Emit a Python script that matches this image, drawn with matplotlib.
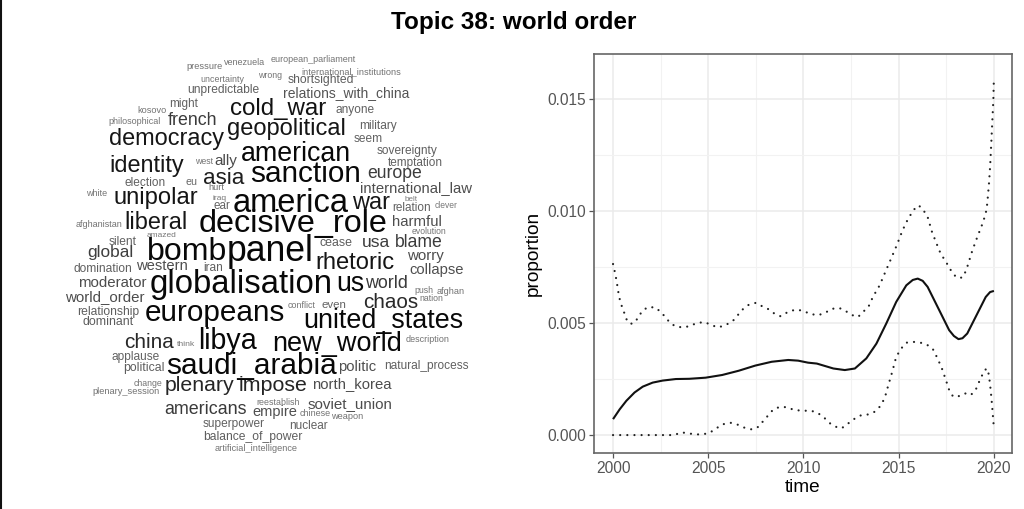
import numpy as np
import matplotlib
matplotlib.use('Agg')
import matplotlib.pyplot as plt
from matplotlib.lines import Line2D
from matplotlib.ticker import MultipleLocator, FormatStrFormatter

plt.rcParams['font.family'] = ['Liberation Sans', 'DejaVu Sans']

# ---- word cloud ----
words = ['pressure', 'venezuela', 'european_parliament', 'international_institutions',
         'uncertainty', 'wrong', 'shortsighted', 'unpredictable', 'relations_with_china',
         'might', 'kosovo', 'cold_war', 'anyone', 'philosophical', 'french', 'geopolitical',
         'military', 'democracy', 'seem', 'american', 'sovereignty', 'identity', 'west',
         'ally', 'temptation', 'asia', 'sanction', 'europe', 'election', 'eu', 'hurt',
         'white', 'unipolar', 'international_law', 'iraq', 'ear', 'america', 'war', 'belt',
         'relation', 'clever', 'afghanistan', 'liberal', 'decisive_role', 'harmful',
         'evolution', 'amazed', 'silent', 'global', 'bomb', 'panel', 'cease', 'usa',
         'blame', 'rhetoric', 'worry', 'domination', 'western', 'iran', 'collapse',
         'moderator', 'globalisation', 'us', 'world', 'push', 'afghan', 'nation',
         'world_order', 'relationship', 'europeans', 'conflict', 'even', 'chaos',
         'dominant', 'united_states', 'china', 'think', 'libya', 'new_world',
         'description', 'applause', 'political', 'saudi_arabia', 'politic',
         'natural_process', 'change', 'plenary_session', 'plenary', 'impose',
         'north_korea', 'reestablish', 'americans', 'empire', 'soviet_union', 'chinese',
         'weapon', 'superpower', 'nuclear', 'balance_of_power', 'artificial_intelligence']

# where each word sits in the picture (pixels): left, right, vertical centre
word_boxes = [(187, 223, 66), (224, 265, 62), (271, 356, 59), (302, 400, 71),
              (200, 244, 79), (258, 282, 75), (288, 354, 79), (187, 259, 89), (283, 409, 93),
              (169, 198, 103), (137, 166, 110), (230, 327, 108), (336, 375, 109),
              (109, 161, 121), (168, 218, 120), (227, 346, 128),
              (359, 397, 125), (108, 224, 138), (354, 383, 138), (240, 351, 153),
              (377, 438, 150), (109, 184, 165), (195, 213, 161),
              (214, 237, 160), (388, 443, 162), (203, 244, 177), (250, 361, 173),
              (367, 422, 173), (125, 166, 182), (186, 198, 182), (208, 224, 187),
              (86, 107, 193), (113, 198, 197), (360, 472, 188), (213, 227, 198),
              (213, 230, 206), (232, 349, 202), (352, 390, 202), (405, 418, 199),
              (392, 431, 207), (435, 458, 205), (75, 122, 224), (125, 188, 222),
              (198, 388, 222), (392, 442, 222),
              (412, 447, 231), (147, 177, 234), (109, 137, 241), (87, 133, 252),
              (147, 227, 250), (227, 314, 250), (319, 352, 242), (362, 390, 242),
              (395, 443, 242), (315, 395, 262), (407, 444, 255), (73, 132, 268),
              (136, 188, 266), (203, 223, 267), (410, 464, 270),
              (78, 147, 282), (150, 333, 283), (336, 364, 283), (365, 408, 283),
              (414, 433, 290), (437, 465, 291), (419, 443, 298),
              (65, 145, 297), (77, 139, 311), (144, 285, 312), (288, 316, 305),
              (321, 346, 305), (363, 418, 302),
              (83, 134, 321), (303, 463, 320), (124, 174, 342), (177, 195, 343),
              (198, 257, 340), (272, 402, 343),
              (406, 450, 339), (112, 160, 356), (123, 164, 367), (166, 337, 365),
              (338, 376, 367),
              (384, 469, 365), (134, 163, 383), (93, 160, 391), (164, 234, 385),
              (239, 308, 385),
              (312, 392, 384), (257, 300, 402), (164, 247, 409), (252, 297, 412),
              (307, 392, 403), (300, 331, 413),
              (331, 363, 416), (203, 265, 423), (289, 328, 425), (203, 302, 436),
              (215, 297, 448)]

# ---- topic proportion over time ----
mean_t = [2000.0, 2000.35, 2000.7, 2001.13, 2001.56, 2002.08, 2002.6, 2003.3, 2004.0,
          2004.86, 2005.73, 2006.6, 2007.47, 2008.33, 2009.2, 2009.72, 2010.24, 2010.7,
          2011.57, 2012.17, 2012.7, 2013.3, 2013.83, 2014.35, 2014.87, 2015.4, 2015.74,
          2016.0, 2016.26, 2016.52, 2017.13, 2017.65, 2017.9, 2018.14, 2018.35, 2018.6,
          2019.13, 2019.57, 2019.8, 2020.0]
mean_v = [0.00071, 0.00115, 0.00153, 0.0019, 0.00216, 0.00234, 0.00243, 0.0025, 0.00251,
          0.00256, 0.00268, 0.00287, 0.0031, 0.00327, 0.00335, 0.00332, 0.00323, 0.00319,
          0.00297, 0.0029, 0.00297, 0.00342, 0.00408, 0.00498, 0.00594, 0.00668, 0.00692,
          0.00698, 0.00688, 0.00661, 0.00557, 0.00468, 0.00442, 0.00428, 0.00432, 0.00453,
          0.00542, 0.00616, 0.00638, 0.00643]

upper_t = [2000.0, 2000.09, 2000.17, 2000.24, 2000.31, 2000.4, 2000.52, 2000.66, 2000.75,
           2001.0, 2001.3, 2001.5, 2001.8, 2002.2, 2002.5, 2002.76, 2003.0, 2003.3, 2003.7,
           2004.05, 2004.4, 2004.8, 2005.2, 2005.5, 2005.9, 2006.3, 2006.5, 2006.8, 2007.1,
           2007.5, 2007.8, 2008.2, 2008.5, 2008.8, 2009.2, 2009.6, 2010.0, 2010.35, 2010.78,
           2011.13, 2011.48, 2011.88, 2012.2, 2012.56, 2012.87, 2013.13, 2013.4, 2013.65,
           2014.0, 2014.3, 2014.6, 2014.9, 2015.2, 2015.5, 2015.8, 2016.05, 2016.3, 2016.52,
           2016.75, 2016.99, 2017.2, 2017.48, 2017.74, 2018.0, 2018.2, 2018.4, 2018.6,
           2018.87, 2019.13, 2019.4, 2019.57, 2019.65, 2019.74, 2019.8, 2019.86, 2019.91,
           2019.97, 2020.0]
upper_v = [0.00763, 0.00729, 0.00695, 0.00659, 0.0062, 0.0059, 0.0056, 0.0053, 0.00505,
           0.00496, 0.0052, 0.0055, 0.0057, 0.0057, 0.0055, 0.00525, 0.005, 0.00484, 0.0048,
           0.00487, 0.005, 0.00504, 0.0049, 0.0048, 0.0049, 0.0051, 0.0053, 0.0056, 0.0058,
           0.0059, 0.00576, 0.0056, 0.0054, 0.0053, 0.0055, 0.0056, 0.00554, 0.0054, 0.00535,
           0.00545, 0.00563, 0.00567, 0.00554, 0.00535, 0.00527, 0.0055, 0.0057, 0.00617,
           0.00668, 0.00728, 0.00787, 0.00847, 0.00913, 0.00966, 0.01006, 0.01025, 0.01003,
           0.00973, 0.00906, 0.00854, 0.0081, 0.00773, 0.00735, 0.00706, 0.007, 0.00706,
           0.0075, 0.00824, 0.00884, 0.00943, 0.00988, 0.01032, 0.01121, 0.01196, 0.013,
           0.01389, 0.01493, 0.01597]

lower_t = [2000.0, 2003.2, 2003.6, 2004.0, 2004.34, 2004.7, 2005.07, 2005.42, 2005.76,
           2006.16, 2006.5, 2006.9, 2007.3, 2007.64, 2007.9, 2008.16, 2008.42, 2008.77,
           2009.15, 2009.5, 2009.9, 2010.43, 2010.78, 2011.13, 2011.4, 2011.7, 2012.0,
           2012.35, 2012.7, 2013.04, 2013.4, 2013.74, 2014.0, 2014.26, 2014.43, 2014.66,
           2014.87, 2015.13, 2015.4, 2015.74, 2016.1, 2016.43, 2016.78, 2017.04, 2017.27,
           2017.48, 2017.65, 2017.86, 2018.17, 2018.48, 2018.78, 2019.04, 2019.3, 2019.52,
           2019.65, 2019.74, 2019.83, 2019.91, 2020.0]
lower_v = [0.0, 0.0, 0.00012, 0.00007, 0.00003, 0.00003, 0.0001, 0.0003, 0.00048,
           0.00055, 0.00048, 0.00033, 0.00025, 0.00037, 0.00064, 0.00089, 0.00115, 0.00126,
           0.00124, 0.00112, 0.00109, 0.00108, 0.00097, 0.00074, 0.00052, 0.00037, 0.0003,
           0.00052, 0.00074, 0.00089, 0.00092, 0.00104, 0.00126, 0.00163, 0.00215, 0.00282,
           0.00349, 0.00386, 0.00412, 0.00416, 0.00413, 0.00406, 0.00386, 0.00342, 0.00297,
           0.00245, 0.00201, 0.00171, 0.00174, 0.00186, 0.00178, 0.00201, 0.00253, 0.0029,
           0.00297, 0.00267, 0.00201, 0.00126, 0.0003]


fig = plt.figure(figsize=(10.24, 5.09), dpi=100)

# word cloud drawn in pixel coordinates over the whole figure
cloud = fig.add_axes([0, 0, 1, 1])
cloud.set_xlim(0, 1024)
cloud.set_ylim(509, 0)
cloud.axis('off')
renderer = fig.canvas.get_renderer()
for w, (x0, x1, yc) in zip(words, word_boxes):
    t = cloud.text((x0 + x1) / 2, yc, w, fontsize=10, ha='center', va='baseline')
    bb = t.get_window_extent(renderer)
    fs = 10 * (x1 - x0) / bb.width
    px = fs * 100 / 72
    t.set_fontsize(fs)
    t.set_y(yc + 0.3 * px)
    # bigger words are darker
    g = np.clip(0.45 - (px - 9) * 0.025, 0.03, 0.5)
    t.set_color(str(round(float(g), 3)))

fig.add_artist(Line2D([0.0012, 0.0012], [0, 1], color='#111111', lw=1.5))

fig.text(0.5015, 1 - 23 / 509, 'Topic 38: world order', fontsize=17.5,
         fontweight='bold', ha='center', va='center')

# proportion panel, ggplot theme_bw look
ax = fig.add_axes([594 / 1024, 1 - 453 / 509, 418 / 1024, 399 / 509])
ax.plot(mean_t, mean_v, color='#111111', lw=1.5, solid_capstyle='butt',
        solid_joinstyle='round')
ax.plot(upper_t, upper_v, color='#222222', lw=1.6, linestyle=(0, (0.01, 3.2)),
        dash_capstyle='round')
ax.plot(lower_t, lower_v, color='#222222', lw=1.6, linestyle=(0, (0.01, 3.2)),
        dash_capstyle='round')

ax.set_xlim(1999.0, 2020.95)
ax.set_ylim(-0.0008, 0.0170)
ax.xaxis.set_major_locator(MultipleLocator(5))
ax.xaxis.set_minor_locator(MultipleLocator(2.5))
ax.yaxis.set_major_locator(MultipleLocator(0.005))
ax.yaxis.set_minor_locator(MultipleLocator(0.0025))
ax.yaxis.set_major_formatter(FormatStrFormatter('%.3f'))
ax.xaxis.set_major_formatter(FormatStrFormatter('%d'))
ax.grid(which='major', color='#EBEBEB', lw=1.1)
ax.grid(which='minor', color='#F2F2F2', lw=0.8)
ax.set_axisbelow(True)
ax.tick_params(which='major', length=3.5, width=0.9, color='#555555',
               labelsize=11.2, labelcolor='#555555', pad=2.5)
ax.tick_params(which='minor', length=0)
for s in ax.spines.values():
    s.set_color('#666666')
    s.set_linewidth(1.2)

ax.set_xlabel('time', fontsize=13.7, labelpad=2)
ax.set_ylabel('proportion', fontsize=13.7, labelpad=4)

fig.savefig('out.png', dpi=100)
